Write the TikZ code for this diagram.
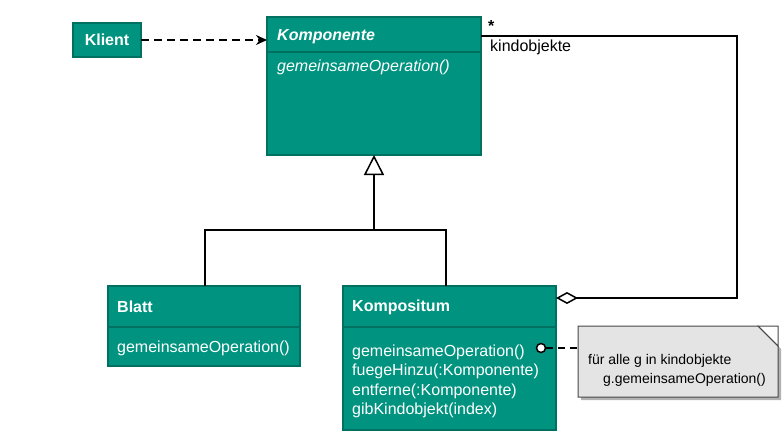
\documentclass[tikz,border=0pt]{standalone}
\usepackage{fontspec}
\setmainfont{Liberation Sans}
\usetikzlibrary{arrows.meta,calc}
\definecolor{tealfill}{RGB}{0,148,128}
\definecolor{tealdraw}{RGB}{0,112,96}
\definecolor{notefill}{RGB}{228,228,228}
\definecolor{notedraw}{RGB}{70,70,70}
\begin{document}
\begin{tikzpicture}[x=1pt,y=-1pt,
  box/.style={draw=tealdraw, fill=tealfill, line width=1.6pt, anchor=north west, inner sep=0pt, outer sep=0pt},
  hdr/.style={anchor=west, text=white, font=\fontsize{16}{19}\selectfont\bfseries, inner sep=0pt},
  mth/.style={anchor=west, text=white, font=\fontsize{16}{19.2}\selectfont, inner sep=0pt, align=left},
  lbl/.style={anchor=west, font=\fontsize{16}{19}\selectfont, inner sep=0pt},
  conn/.style={line width=1.5pt, black}
]
\useasboundingbox (0,0) rectangle (783,444);

% Klient
\node[box, minimum width=68pt, minimum height=34pt] (klient) at (73,23) {};
\node[hdr, anchor=center] (klientT) at (klient.center) {Klient};

% Komponente
\node[box, minimum width=214pt, minimum height=138pt] (komp) at (267,17) {};
\draw[tealdraw, line width=1.6pt] (267,52) coordinate (kd1) -- (481,52) coordinate (kd2);
\node[hdr, font=\fontsize{16}{19}\selectfont\bfseries\itshape] (kompT) at (277,37) {Komponente};
\node[mth, font=\fontsize{16}{19}\selectfont\itshape] (kompM) at (277,67) {gemeinsameOperation()};

% Blatt
\node[box, minimum width=192pt, minimum height=80pt] (blatt) at (108,286) {};
\draw[tealdraw, line width=1.6pt] (108,327) -- (300,327);
\node[hdr] (blattT) at (117,307) {Blatt};
\node[mth] (blattM) at (117,348) {gemeinsameOperation()};

% Kompositum
\node[box, minimum width=213pt, minimum height=144pt] (kompo) at (343,286) {};
\draw[tealdraw, line width=1.6pt] (343,327) -- (556,327);
\node[hdr] (kompoT) at (352,307) {Kompositum};
\node[mth, anchor=north west] (kompoM) at (352,345) {gemeinsameOperation()\\fuegeHinzu(:Komponente)\\entferne(:Komponente)\\gibKindobjekt(index)};

% Note
\fill[gray!60] (581,329) -- (761,329) -- (781,349) -- (781,400) -- (581,400) -- cycle;
\draw[notedraw, fill=notefill, line width=1pt] (578,326) -- (758,326) -- (778,346) -- (778,397) -- (578,397) -- cycle;
\draw[notedraw, line width=1pt] (758,326) -- (778,346) -- (778,326) -- cycle;
\node[inner sep=0pt, minimum width=200pt, minimum height=71pt, anchor=north west] (note) at (578,326) {};
\node[lbl, font=\fontsize{14}{18}\selectfont] (noteT1) at (588,361) {für alle g in kindobjekte};
\node[lbl, font=\fontsize{14}{18}\selectfont] (noteT2) at (603,380) {g.gemeinsameOperation()};

% dependency
\draw[conn, dash pattern=on 8pt off 5pt, -{Stealth[length=11pt,width=10pt]}] (klient.east) -- (klient.east -| komp.west);

% inheritance
\coordinate (j) at (374,230);
\draw[conn, -{Triangle[open,length=20pt,width=20pt,line width=1.5pt]}] (j) -- (komp.south);
\draw[conn] (blatt.north -| 205,0) |- (j) -| (kompo.north -| 446,0);

% aggregation
\coordinate (a1) at (737,298);
\coordinate (a2) at (737,36);
\draw[conn, {Diamond[open,length=22pt,width=12pt,line width=1.5pt]}-] (kompo.east |- a1) -- (a1) -- (a2) -- (a2 -| komp.east);
\node[lbl, font=\fontsize{16}{19}\selectfont\bfseries] (star) at (488,26) {*};
\node[lbl] (kind) at (490,47) {kindobjekte};

% note connector
\node[circle, draw=black, fill=white, line width=1.5pt, minimum size=9pt, inner sep=0pt] (dot) at (541,348) {};
\draw[conn, line width=1.2pt, dash pattern=on 7pt off 5pt] (dot.east) -- (dot.east -| note.west);
\end{tikzpicture}
\end{document}
